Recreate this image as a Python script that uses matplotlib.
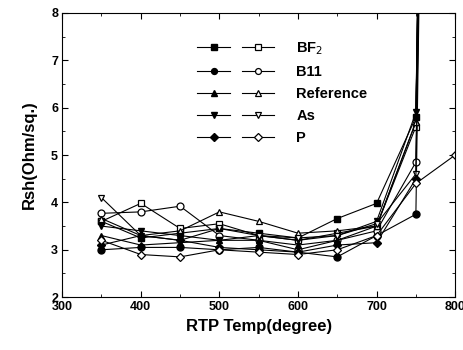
import numpy as np
import matplotlib
matplotlib.use("Agg")
from matplotlib import pyplot as plt
from matplotlib.legend_handler import HandlerTuple
from matplotlib.ticker import MultipleLocator

plt.rcParams['font.family'] = ['Liberation Sans', 'DejaVu Sans']

temps = [350, 400, 450, 500, 550, 600, 650, 700, 750, 800]

# filled / open pairs per dopant (800 C values go far off scale)
bf2_fill = [3.60, 3.25, 3.35, 3.45, 3.35, 3.25, 3.66, 3.98, 5.80, 60]
bf2_open = [3.60, 3.98, 3.45, 3.55, 3.30, 3.20, 3.35, 3.50, 5.60, 60]
b11_fill = [3.00, 3.05, 3.05, 3.00, 3.05, 2.95, 2.85, 3.30, 3.75, 60]
b11_open = [3.77, 3.80, 3.92, 3.30, 3.20, 3.00, 3.20, 3.40, 4.85, 60]
ref_fill = [3.30, 3.10, 3.15, 3.20, 3.20, 3.10, 3.20, 3.50, 5.70, 60]
ref_open = [3.66, 3.30, 3.40, 3.80, 3.60, 3.35, 3.40, 3.50, 5.70, 60]
as_fill = [3.50, 3.40, 3.30, 3.20, 3.30, 3.20, 3.30, 3.60, 5.90, 60]
as_open = [4.10, 3.30, 3.20, 3.45, 3.30, 3.25, 3.30, 3.55, 4.60, 60]
p_fill = [3.10, 3.30, 3.20, 3.05, 3.00, 2.95, 3.10, 3.15, 4.50, 60]
p_open = [3.20, 2.90, 2.85, 3.00, 2.95, 2.90, 3.00, 3.30, 4.40, 5.00]

labels = ["BF$_2$", "B11", "Reference", "As", "P"]
markers = ["s", "o", "^", "v", "D"]
pairs = [(bf2_fill, bf2_open), (b11_fill, b11_open), (ref_fill, ref_open),
         (as_fill, as_open), (p_fill, p_open)]

fig = plt.figure(figsize=(4.64, 3.5), dpi=100)
ax = fig.add_axes([0.134, 0.151, 0.847, 0.812])

handles = []
for (yf, yo), m in zip(pairs, markers):
    ms = 5 if m != "D" else 4.5
    hf, = ax.plot(temps, yf, color="k", lw=0.8, marker=m, ms=ms,
                  mfc="k", mec="k")
    ho, = ax.plot(temps, yo, color="k", lw=0.8, marker=m, ms=ms,
                  mfc="white", mec="k", mew=0.9)
    handles.append((hf, ho))

ax.set_xlim(300, 800)
ax.set_ylim(2, 8)
ax.xaxis.set_major_locator(MultipleLocator(100))
ax.xaxis.set_minor_locator(MultipleLocator(50))
ax.yaxis.set_major_locator(MultipleLocator(1))
ax.yaxis.set_minor_locator(MultipleLocator(0.5))
ax.tick_params(which="both", direction="in", top=True, right=True,
               labelsize=9, pad=3)
ax.tick_params(which="major", length=4)
ax.tick_params(which="minor", length=2)
for lab in ax.get_xticklabels() + ax.get_yticklabels():
    lab.set_fontweight("bold")

ax.set_xlabel("RTP Temp(degree)", fontsize=12, fontweight="bold", labelpad=4)
ax.set_ylabel("Rsh(Ohm/sq.)", fontsize=12, fontweight="bold", labelpad=10)

leg = ax.legend(handles, labels, handler_map={tuple: HandlerTuple(ndivide=None, pad=0.8)},
                loc="upper left", bbox_to_anchor=(0.31, 0.95), frameon=False,
                handlelength=5.3, handletextpad=1.5, labelspacing=0.55,
                markerscale=0.85, prop={"weight": "bold", "size": 10.5})

fig.savefig("out.png", dpi=100)
